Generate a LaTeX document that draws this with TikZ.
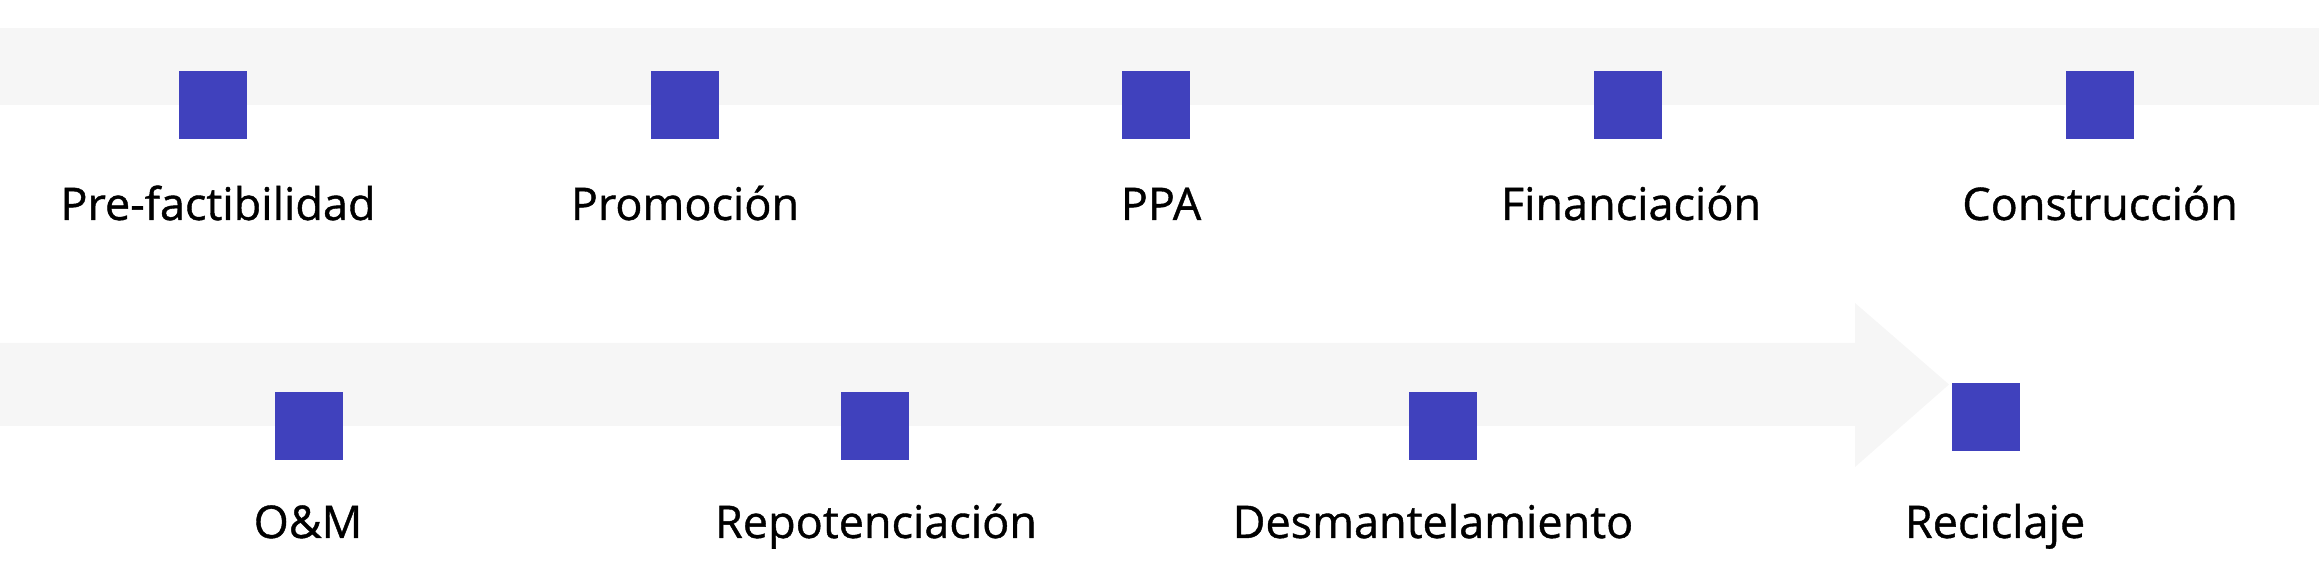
\documentclass[tikz,border=0pt]{standalone}
\usepackage{fontspec}
\setmainfont{Open Sans}
\newfontfamily\phasefont{Open Sans}[RawFeature={embolden=0.9}]
\definecolor{bandgray}{RGB}{246,246,246}
\definecolor{phaseblue}{RGB}{64,65,189}
\tikzset{
  phase/.style={fill=phaseblue, minimum size=0.68cm, inner sep=0pt},
  phaselabel/.style={anchor=base, inner sep=0pt, font=\phasefont\fontsize{12.8}{15}\selectfont}
}
\begin{document}
\begin{tikzpicture}
      \useasboundingbox (0,0) rectangle (23.19,5.70);
      % bands
      \fill[bandgray] (0,4.65) rectangle (23.19,5.42);
      \fill[bandgray] (0,1.44) -- (18.55,1.44) -- (18.55,1.03) -- (19.49,1.855)
        -- (18.55,2.67) -- (18.55,2.27) -- (0,2.27) -- cycle;
      % first row
      \node[phase] (pre) at (2.13,4.65) {};
      \node[phase] (prom) at (6.85,4.65) {};
      \node[phase] (ppa) at (11.56,4.65) {};
      \node[phase] (fin) at (16.28,4.65) {};
      \node[phase] (cons) at (21.00,4.65) {};
      \node[phaselabel] (lpre) at (2.18,3.50) {Pre-factibilidad};
      \node[phaselabel] (lprom) at (6.85,3.50) {Promoción};
      \node[phaselabel] (lppa) at (11.61,3.50) {PPA};
      \node[phaselabel] (lfin) at (16.31,3.50) {Financiación};
      \node[phaselabel] (lcons) at (21.00,3.50) {Construcción};
      % second row
      \node[phase] (om) at (3.09,1.44) {};
      \node[phase] (repo) at (8.75,1.44) {};
      \node[phase] (desm) at (14.43,1.44) {};
      \node[phase] (reci) at (19.86,1.53) {};
      \node[phaselabel] (lom) at (3.08,0.32) {O\&M};
      \node[phaselabel] (lrepo) at (8.76,0.32) {Repotenciación};
      \node[phaselabel] (ldesm) at (14.33,0.32) {Desmantelamiento};
      \node[phaselabel] (lreci) at (19.95,0.32) {Reciclaje};
    \end{tikzpicture}
\end{document}
